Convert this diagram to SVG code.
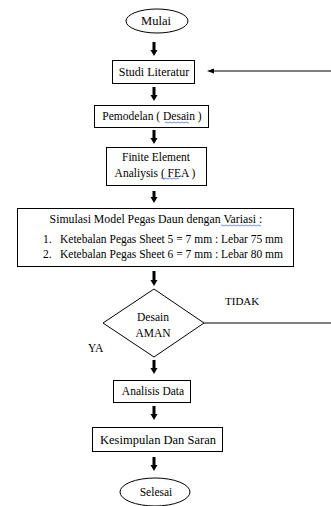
<svg xmlns="http://www.w3.org/2000/svg" width="331" height="506" viewBox="0 0 331 506">
<style>
.box{fill:#fff;stroke:#000;stroke-width:1}
.t{font-family:'Liberation Serif','DejaVu Serif',serif;font-size:11.5px;fill:#000}
.c{text-anchor:middle}
.sh{stroke:#000;stroke-width:3;fill:none}
.hd{fill:#000}
.ln{stroke:#000;stroke-width:1;fill:none}
.wv{stroke:#3a5fd0;stroke-width:0.7;fill:none}
</style>
<rect width="331" height="506" fill="#fff"/>
<g id="connectors">
  <g id="a1"><line class="sh" x1="154" y1="42" x2="154" y2="51"/><polygon class="hd" points="150.5,50 157.5,50 154,56"/></g>
  <g id="a2"><line class="sh" x1="154" y1="87" x2="154" y2="96"/><polygon class="hd" points="150.5,95 157.5,95 154,101"/></g>
  <g id="a3"><line class="sh" x1="154" y1="130" x2="154" y2="139"/><polygon class="hd" points="150.5,138 157.5,138 154,144"/></g>
  <g id="a4"><line class="sh" x1="154" y1="191" x2="154" y2="199"/><polygon class="hd" points="150.5,197 157.5,197 154,203"/></g>
  <g id="a5"><line class="sh" x1="154" y1="271" x2="154" y2="281"/><polygon class="hd" points="150.5,280 157.5,280 154,286"/></g>
  <g id="a6"><line class="sh" x1="154" y1="360" x2="154" y2="369"/><polygon class="hd" points="150.5,368 157.5,368 154,374"/></g>
  <g id="a7"><line class="sh" x1="154" y1="406" x2="154" y2="415"/><polygon class="hd" points="150.5,414 157.5,414 154,420"/></g>
  <g id="a8"><line class="sh" x1="154" y1="457" x2="154" y2="466"/><polygon class="hd" points="150.5,465 157.5,465 154,471"/></g>
  <g id="loop-in"><line class="ln" x1="331" y1="71" x2="213" y2="71"/><polygon class="hd" points="207,71 214,68.5 214,73.5"/></g>
  <g id="loop-out"><line class="ln" x1="204" y1="323" x2="331" y2="323"/></g>
  <text class="t" x="225" y="305" style="font-size:11px">TIDAK</text>
  <text class="t" x="88" y="352">YA</text>
</g>
<g id="mulai">
  <ellipse class="box" cx="157" cy="21" rx="31" ry="12"/>
  <text class="t c" x="156" y="25" style="font-size:12.5px">Mulai</text>
</g>
<g id="studi">
  <rect class="box" x="112.5" y="60.5" width="82" height="23"/>
  <text class="t c" x="154" y="76" style="font-size:12px">Studi Literatur</text>
</g>
<g id="pemodelan">
  <rect class="box" x="94.5" y="105.5" width="114" height="22"/>
  <text class="t c" x="152" y="120">Pemodelan ( Desain )</text>
  <path class="wv" d="M165,122.5 q1,-1 2,0 t2,0 t2,0 t2,0 t2,0 t2,0 t2,0 t2,0 t2,0 t2,0 t2,0 t2,0"/>
</g>
<g id="fea">
  <rect class="box" x="106.5" y="147.5" width="100" height="38"/>
  <text class="t c" x="156" y="161">Finite Element</text>
  <text class="t c" x="155" y="177">Analiysis ( FEA )</text>
  <path class="wv" d="M161,178.5 q1,-1 2,0 t2,0 t2,0 t2,0 t2,0 t2,0 t2,0 t2,0 t2,0"/>
</g>
<g id="simulasi">
  <rect class="box" x="17.5" y="208.5" width="276" height="58"/>
  <text class="t c" x="156" y="223" style="font-size:11.8px">Simulasi Model Pegas Daun dengan Variasi :</text>
  <path class="wv" d="M221,225.5 q1,-1 2,0 t2,0 t2,0 t2,0 t2,0 t2,0 t2,0 t2,0 t2,0 t2,0 t2,0 t2,0 t2,0 t2,0 t2,0 t2,0 t2,0 t2,0 t2,0 t2,0"/>
  <text class="t" x="43" y="243">1.</text>
  <text class="t" x="60" y="243">Ketebalan Pegas Sheet 5 = 7 mm : Lebar 75 mm</text>
  <text class="t" x="43" y="258">2.</text>
  <text class="t" x="60" y="258">Ketebalan Pegas Sheet 6 = 7 mm : Lebar 80 mm</text>
</g>
<g id="desain-aman">
  <polygon class="box" points="154,289 204,323 154,357 103,323"/>
  <text class="t c" x="153" y="321">Desain</text>
  <text class="t c" x="153" y="337">AMAN</text>
</g>
<g id="analisis">
  <rect class="box" x="113.5" y="380.5" width="77" height="22"/>
  <text class="t c" x="153" y="395">Analisis Data</text>
</g>
<g id="kesimpulan">
  <rect class="box" x="92.5" y="427.5" width="130" height="24"/>
  <text class="t c" x="158" y="444" style="font-size:12.5px">Kesimpulan Dan Saran</text>
</g>
<g id="selesai">
  <ellipse class="box" cx="155" cy="492" rx="35" ry="14"/>
  <text class="t c" x="156" y="496">Selesai</text>
</g>
</svg>
